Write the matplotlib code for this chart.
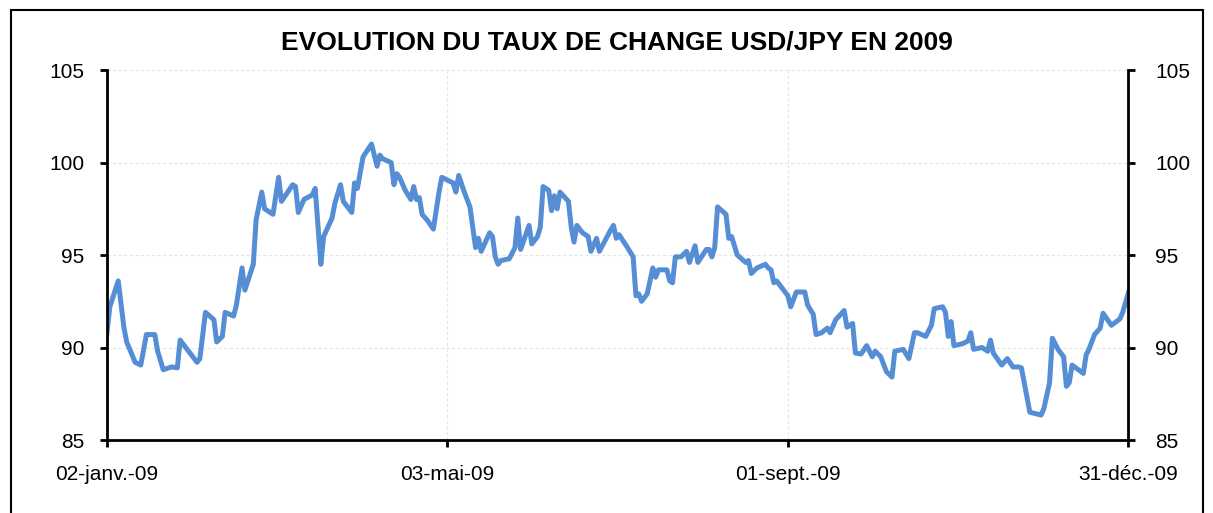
import matplotlib
matplotlib.use("Agg")
import matplotlib.pyplot as plt
import matplotlib.transforms as mtransforms
import numpy as np
from matplotlib.patches import Rectangle

plt.rcParams["font.family"] = ["Liberation Sans", "DejaVu Sans"]

# jours depuis le 02-janv.-09 et cours USD/JPY
jours = [0, 1, 4, 6, 7, 10, 12, 14, 17, 18, 20, 23, 25, 26, 28, 30, 32, 33, 35, 38,
         39, 41, 42, 45, 46, 48, 49, 52, 53, 55, 56, 59, 61, 62, 66, 67, 68, 70, 73, 74,
         76, 77, 80, 81, 83, 84, 87, 88, 89, 91, 94, 96, 97, 98, 101, 102, 103, 104, 106, 108,
         109, 110, 111, 112, 114, 116, 118, 119, 123, 124, 125, 127, 129, 131, 132, 133, 136, 137, 138, 139,
         140, 143, 144, 145, 146, 147, 150, 151, 153, 154, 155, 157, 158, 159, 160, 161, 164, 165, 166, 167,
         169, 171, 172, 174, 175, 179, 180, 181, 182, 185, 187, 188, 189, 190, 192, 194, 195, 196, 199, 200,
         201, 202, 204, 206, 207, 209, 210, 213, 214, 215, 216, 217, 220, 221, 222, 224, 227, 228, 229, 231,
         234, 235, 236, 237, 238, 242, 243, 245, 248, 249, 251, 252, 254, 256, 257, 259, 262, 263, 265, 266,
         268, 270, 272, 273, 275, 277, 279, 280, 283, 285, 287, 288, 291, 293, 294, 297, 298, 299, 300, 301,
         304, 306, 307, 308, 311, 313, 314, 315, 318, 320, 322, 324, 325, 326, 328, 332, 333, 335, 336, 338,
         340, 341, 342, 343, 347, 348, 349, 351, 353, 354, 357, 360, 361, 363]
taux = [90.8, 92.2, 93.6, 91.1, 90.3, 89.2, 89.05, 90.7, 90.7, 89.8, 88.8, 88.95, 88.9, 90.4, 90.0, 89.6, 89.2, 89.4, 91.9, 91.5,
        90.3, 90.6, 91.9, 91.7, 92.3, 94.3, 93.1, 94.5, 96.9, 98.4, 97.5, 97.2, 99.2, 97.9, 98.8, 98.7, 97.3, 98.0, 98.25, 98.6,
        94.5, 96.0, 97.0, 97.8, 98.8, 97.9, 97.3, 98.9, 98.6, 100.3, 101.0, 99.8, 100.4, 100.2, 100.0, 98.8, 99.4, 99.2, 98.5, 98.0,
        98.7, 98.0, 98.1, 97.2, 96.85, 96.4, 98.4, 99.2, 98.9, 98.4, 99.3, 98.4, 97.6, 95.4, 95.9, 95.2, 96.2, 96.0, 94.9, 94.5,
        94.7, 94.8, 95.1, 95.4, 97.0, 95.3, 96.6, 95.6, 96.0, 96.5, 98.7, 98.5, 97.4, 98.2, 97.5, 98.4, 97.9, 96.5, 95.7, 96.6,
        96.2, 96.0, 95.2, 95.9, 95.2, 96.35, 96.6, 95.9, 96.1, 95.4, 94.9, 92.8, 92.9, 92.5, 92.9, 94.3, 93.8, 94.2, 94.2, 93.6,
        93.5, 94.9, 94.9, 95.2, 94.6, 95.5, 94.6, 95.3, 95.3, 94.9, 95.4, 97.6, 97.2, 95.9, 96.0, 95.0, 94.6, 94.7, 94.0, 94.3,
        94.5, 94.3, 94.2, 93.5, 93.6, 92.8, 92.2, 93.0, 93.0, 92.3, 91.8, 90.7, 90.8, 91.05, 90.8, 91.5, 92.0, 91.1, 91.3, 89.7,
        89.65, 90.1, 89.5, 89.8, 89.5, 88.7, 88.4, 89.8, 89.9, 89.4, 90.8, 90.8, 90.6, 91.2, 92.1, 92.2, 91.9, 90.6, 91.4, 90.1,
        90.2, 90.35, 90.8, 89.9, 90.0, 89.8, 90.4, 89.7, 89.05, 89.4, 88.95, 88.95, 88.9, 88.1, 86.5, 86.35, 86.7, 88.1, 90.5, 89.9,
        89.5, 87.9, 88.1, 89.05, 88.6, 89.6, 89.9, 90.7, 91.05, 91.85, 91.2, 91.55, 91.9, 92.95]

ticks_x = ["2009-01-02", "2009-05-03", "2009-09-01", "2009-12-31"]
labels_x = ["02-janv.-09", "03-mai-09", "01-sept.-09", "31-déc.-09"]
ticks_y = [85, 90, 95, 100, 105]

dates = np.datetime64("2009-01-02") + np.array(jours).astype("timedelta64[D]")
ticks_dates = np.array(ticks_x, dtype="datetime64[D]")

fig = plt.figure(figsize=(12.13, 5.13), dpi=100)
ax = fig.add_axes([0.0882, 0.1423, 0.8420, 0.7212])

ax.plot(dates, taux, color="#558ED5", linewidth=3.6, solid_joinstyle="round")

ax.set_xlim(ticks_dates[0], ticks_dates[-1])
ax.set_ylim(85, 105)
ax.set_xticks(ticks_dates)
ax.set_xticklabels(labels_x)
ax.set_yticks(ticks_y)

ax.grid(color="#e6e6e6", linewidth=0.8, linestyle=(0, (3, 2)))
ax.set_axisbelow(True)

for s in ["left", "right", "bottom"]:
    ax.spines[s].set_linewidth(2)
    ax.spines[s].set_color("black")
ax.spines["top"].set_visible(False)

ax.tick_params(axis="y", left=True, right=True, labelleft=True, labelright=True,
               direction="out", length=5, width=2, labelsize=15, pad=11.5)
ax.tick_params(axis="x", direction="out", length=5, width=2, labelsize=15, pad=13)

# les étiquettes de droite sont un peu plus écartées de l'axe
decalage = mtransforms.ScaledTranslation(4 / 100, 0, fig.dpi_scale_trans)
for t in ax.yaxis.get_major_ticks():
    t.label2.set_transform(t.label2.get_transform() + decalage)

fig.text(0.5087, 0.918, "EVOLUTION DU TAUX DE CHANGE USD/JPY EN 2009",
         ha="center", va="center", fontsize=19, fontweight="bold")

fig.patches.append(Rectangle((11 / 1213, -0.01), 1192 / 1213, 1.01 - 10 / 513,
                             transform=fig.transFigure, fill=False,
                             edgecolor="black", linewidth=1.5))

fig.savefig("out.png", dpi=100)
